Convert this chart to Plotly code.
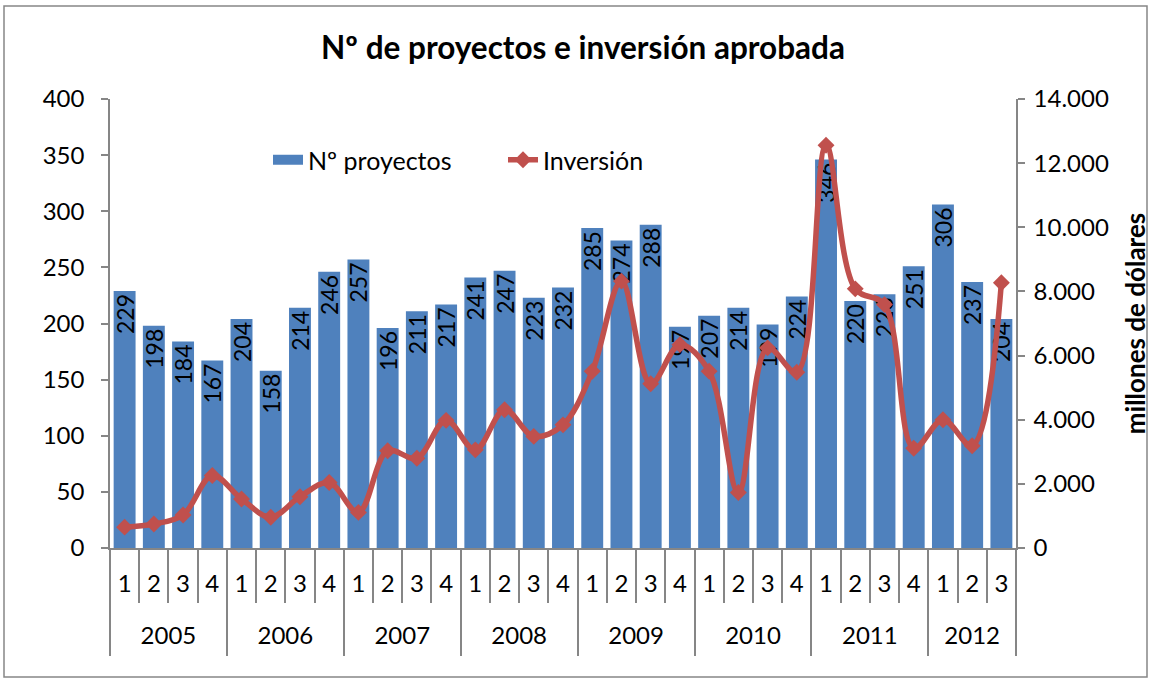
import plotly.graph_objects as go

years = ["2005"]*4 + ["2006"]*4 + ["2007"]*4 + ["2008"]*4 + ["2009"]*4 + ["2010"]*4 + ["2011"]*4 + ["2012"]*3
quarters = ["1", "2", "3", "4"]*7 + ["1", "2", "3"]
proyectos = [229, 198, 184, 167, 204, 158, 214, 246, 257, 196, 211, 217, 241, 247, 223, 232,
             285, 274, 288, 197, 207, 214, 199, 224, 346, 220, 226, 251, 306, 237, 204]
inversion = [650, 750, 1030, 2260, 1530, 960, 1600, 2040, 1110, 3030, 2800, 3980, 3060, 4310, 3480, 3840,
             5510, 8320, 5120, 6340, 5510, 1730, 6240, 5480, 12560, 8080, 7590, 3110, 4000, 3190, 8270]
left_ticks = [0, 50, 100, 150, 200, 250, 300, 350, 400]
right_ticks = [0, 2000, 4000, 6000, 8000, 10000, 12000, 14000]

FONT = "Lato"
GRAY = "#868686"
W, H = 1151, 681
L, R, T, B = 110, 1016, 99, 548

n = len(proyectos)
idx = list(range(n))
q_bounds = [i - 0.5 for i in range(n + 1)]
year_names = []
for y in years:
    if y not in year_names:
        year_names.append(y)
year_centers = []
year_bounds = [-0.5]
for yn in year_names:
    pos = [i for i, y in enumerate(years) if y == yn]
    year_centers.append(sum(pos) / len(pos))
    year_bounds.append(pos[-1] + 0.5)


def px_x(p):
    return (p - L) / (R - L)


def px_y(p):
    return (B - p) / (B - T)


fig = go.Figure()
fig.add_trace(go.Bar(
    x=idx, y=proyectos, name="Nº proyectos", showlegend=False,
    marker=dict(color="#4F81BD", line=dict(width=0)),
    text=[str(v) for v in proyectos], textposition="inside", insidetextanchor="end",
    textangle=-90, textfont=dict(size=23, color="black", family=FONT),
    constraintext="none", cliponaxis=False,
))
# legend swatch for the bars (no data)
fig.add_trace(go.Scatter(
    x=[None], y=[None], name="Nº proyectos", mode="lines",
    line=dict(color="#4F81BD", width=16),
))
fig.add_trace(go.Scatter(
    x=idx, y=inversion, name="Inversión", xaxis="x2", yaxis="y2",
    mode="lines+markers", line=dict(color="#C0504D", width=5.5, shape="spline", smoothing=1.0),
    marker=dict(symbol="diamond", size=13, color="#C0504D"),
))

fig.update_layout(
    width=W, height=H,
    margin=dict(l=L, r=W - R, t=T, b=H - B, autoexpand=False),
    paper_bgcolor="white", plot_bgcolor="white",
    separators=",.",
    font=dict(family=FONT, size=24, color="black"),
    title=dict(text="<b>Nº de proyectos e inversión aprobada</b>", x=583 / W, xanchor="center",
               y=1 - 48 / H, yanchor="middle", font=dict(size=31.5, family=FONT)),
    bargap=0.25,
    showlegend=True,
    legend=dict(orientation="h", x=px_x(268), xanchor="left", y=px_y(160), yanchor="middle",
                bgcolor="rgba(0,0,0,0)", font=dict(size=25), itemwidth=30, tracegroupgap=0,
                entrywidth=190, entrywidthmode="pixels"),
    xaxis=dict(range=[-0.5, n - 0.5], tickmode="array", tickvals=idx, ticktext=quarters,
               showline=True, linecolor=GRAY, linewidth=1.5, ticks="", showgrid=False,
               zeroline=False, ticklabelstandoff=13, tickfont=dict(size=24),
               minor=dict(tickmode="array", tickvals=q_bounds, ticks="outside", ticklen=53,
                          tickcolor=GRAY, tickwidth=1.5, showgrid=False)),
    xaxis2=dict(range=[-0.5, n - 0.5], overlaying="x", anchor="y", side="bottom",
                tickmode="array", tickvals=year_centers, ticktext=year_names,
                showline=False, ticks="", showgrid=False, zeroline=False,
                ticklabelstandoff=71, tickfont=dict(size=24),
                minor=dict(tickmode="array", tickvals=year_bounds, ticks="outside", ticklen=107,
                           tickcolor=GRAY, tickwidth=1.5, showgrid=False)),
    yaxis=dict(range=[0, 400], tickmode="array", tickvals=left_ticks, showgrid=False, zeroline=False,
               showline=True, linecolor=GRAY, linewidth=1.5, ticks="outside",
               tickcolor=GRAY, ticklen=7, tickwidth=1.5, tickfont=dict(size=24),
               ticklabelstandoff=12),
    yaxis2=dict(range=[0, 14000], tickmode="array", tickvals=right_ticks, overlaying="y", side="right",
                anchor="x", showgrid=False, zeroline=False, showline=True, linecolor=GRAY, linewidth=1.5,
                ticks="outside", tickcolor=GRAY, ticklen=7, tickwidth=1.5, tickformat=",d",
                tickfont=dict(size=24), ticklabelstandoff=4,
                title=dict(text="<b>millones de dólares</b>", font=dict(size=26), standoff=20)),
)
fig.add_shape(type="rect", xref="paper", yref="paper",
              x0=px_x(4), x1=px_x(1147), y0=px_y(677), y1=px_y(6),
              line=dict(color=GRAY, width=1.5), layer="below")

fig.write_html("out.html", config={"displayModeBar": False},
               post_script="document.body.style.margin='0';document.body.style.overflow='hidden';")
